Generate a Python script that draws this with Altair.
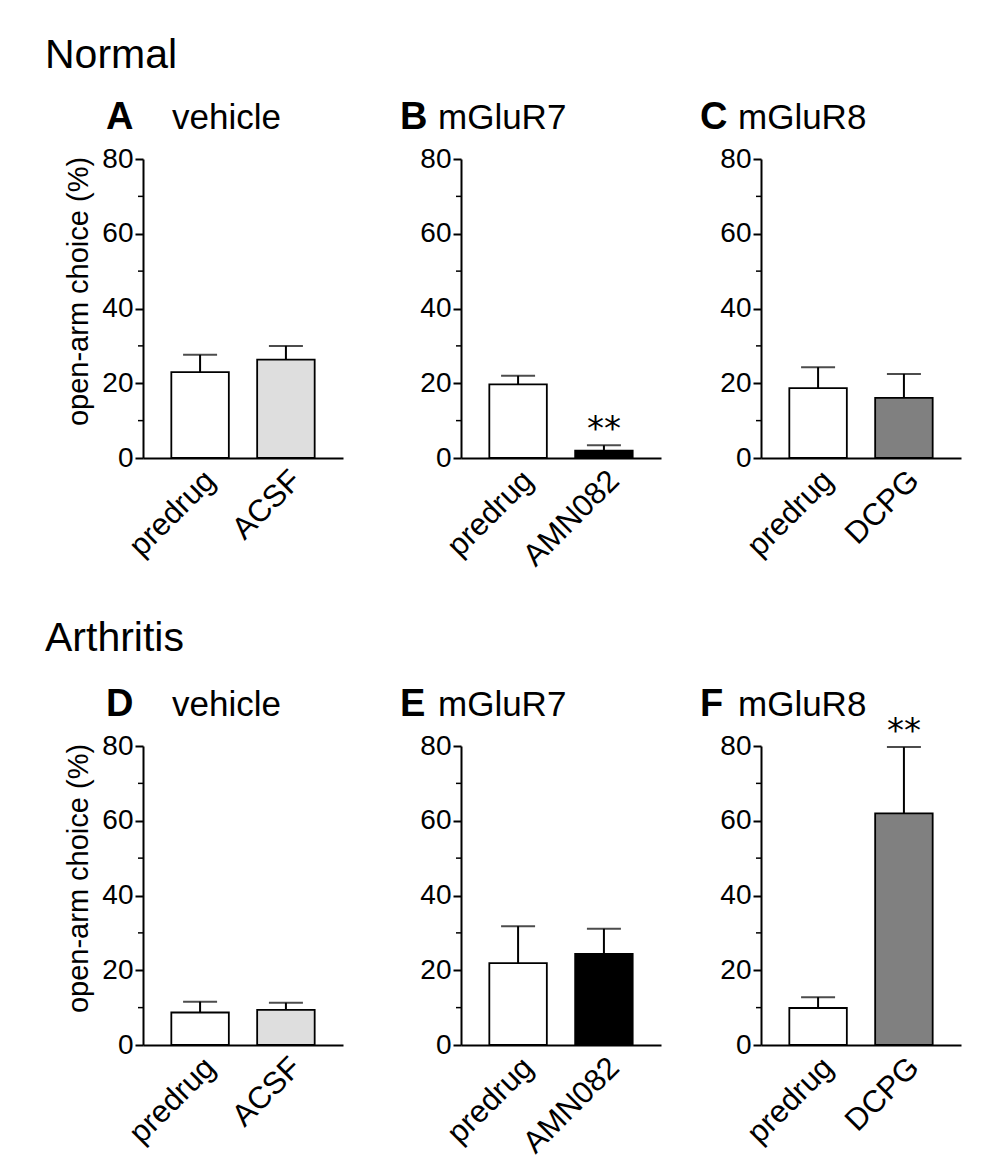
import altair as alt
import pandas as pd

# ---------------- data ----------------
letters = ["A", "B", "C", "D", "E", "F"]
groups = ["Normal", "Normal", "Normal", "Arthritis", "Arthritis", "Arthritis"]
drugs = ["vehicle", "mGluR7", "mGluR8", "vehicle", "mGluR7", "mGluR8"]
conditions = [
    ["predrug", "ACSF"],
    ["predrug", "AMN082"],
    ["predrug", "DCPG"],
    ["predrug", "ACSF"],
    ["predrug", "AMN082"],
    ["predrug", "DCPG"],
]
means = [
    [23.0, 26.3],
    [19.7, 2.0],
    [18.7, 16.1],
    [8.7, 9.4],
    [21.9, 24.4],
    [9.9, 62.0],
]
sems = [
    [4.6, 3.7],
    [2.3, 1.4],
    [5.6, 6.4],
    [2.9, 1.9],
    [9.9, 6.7],
    [2.9, 17.7],
]
marks = [["", ""], ["", "**"], ["", ""], ["", ""], ["", ""], ["", "**"]]
y_ticks = [0, 20, 40, 60, 80]
minor_ticks = [10, 30, 50, 70]
y_title = "open-arm choice (%)"

# ---------------- style ----------------
FILL = {"predrug": "#ffffff", "ACSF": "#dedede", "AMN082": "#000000", "DCPG": "#808080"}
FONT = "Liberation Sans"
W, H = 200, 299
LETTER_X = [-37, -61, -61, -37, -61, -61]
NAME_X = [29, -23, -23, 29, -23, -23]
HEAD_Y = [-91, -91, -91, -95, -95, -95]


def panel(i):
    df = pd.DataFrame({
        "cond": conditions[i],
        "mean": means[i],
        "upper": [m + s for m, s in zip(means[i], sems[i])],
        "sig": marks[i],
    })
    df["fill"] = df["cond"].map(FILL)
    show_title = (i % 3 == 0)

    ax_kw = dict(values=y_ticks, tickSize=8, tickWidth=2, tickColor="black",
                 domainWidth=2, domainColor="black", labelFontSize=28,
                 labelColor="black", labelPadding=2, grid=False, labelFont=FONT)
    if show_title:
        ax_kw.update(title=y_title, titleFontSize=29, titleFontWeight="normal",
                     titlePadding=8, titleColor="black", titleFont=FONT, titleY=132)
    else:
        ax_kw.update(title="")
    yaxis = alt.Axis(**ax_kw)
    yscale = alt.Scale(domain=[0, 80], nice=False)

    xaxis = alt.Axis(title="", labelAngle=-45, ticks=False, tickSize=0, labelPadding=7,
                     labelFontSize=31, domainWidth=2, domainColor="black",
                     labelColor="black", labelFont=FONT)
    xenc = alt.X("cond:N", sort=conditions[i],
                 scale=alt.Scale(paddingInner=0.33, paddingOuter=0.33), axis=xaxis)

    base = alt.Chart(df)
    bars = base.mark_bar(stroke="black", strokeWidth=1.8).encode(
        x=xenc,
        y=alt.Y("mean:Q", scale=yscale, axis=yaxis),
        fill=alt.Fill("fill:N", scale=None),
    )
    err = base.mark_rule(color="black", strokeWidth=2).encode(
        x=xenc,
        y=alt.Y("mean:Q", scale=yscale, axis=yaxis),
        y2="upper:Q",
    )
    cap = base.mark_tick(orient="horizontal", size=34, thickness=2, color="black").encode(
        x=xenc,
        y=alt.Y("upper:Q", scale=yscale, axis=yaxis),
    )
    stars = base.mark_text(font="DejaVu Sans", fontSize=34, baseline="alphabetic",
                           dy=-5, color="black").encode(
        x=xenc,
        y=alt.Y("upper:Q", scale=yscale, axis=yaxis),
        text="sig:N",
    )
    minor = alt.Chart(pd.DataFrame({"v": minor_ticks})).mark_rule(
        color="black", strokeWidth=1.5).encode(
        y=alt.Y("v:Q", scale=yscale, axis=yaxis),
        x=alt.value(-5), x2=alt.value(0),
    )
    letter = alt.Chart(pd.DataFrame({"t": [letters[i]]})).mark_text(
        align="left", baseline="alphabetic", fontSize=38, fontWeight="bold",
        font=FONT, color="black").encode(
        text="t:N", x=alt.value(LETTER_X[i]), y=alt.value(-30))
    name = alt.Chart(pd.DataFrame({"t": [drugs[i]]})).mark_text(
        align="left", baseline="alphabetic", fontSize=35, font=FONT,
        color="black").encode(
        text="t:N", x=alt.value(NAME_X[i]), y=alt.value(-30))
    layers = [bars, err, cap, stars, minor, letter, name]
    if show_title:
        head = alt.Chart(pd.DataFrame({"t": [groups[i]]})).mark_text(
            align="left", baseline="alphabetic", fontSize=41, font=FONT,
            color="black").encode(
            text="t:N", x=alt.value(-98), y=alt.value(HEAD_Y[i]))
        layers.append(head)
    return alt.layer(*layers).properties(width=W, height=H)


row1 = alt.hconcat(panel(0), alt.hconcat(panel(1), panel(2), spacing=39), spacing=57)
row2 = alt.hconcat(panel(3), alt.hconcat(panel(4), panel(5), spacing=39), spacing=57)

chart = alt.vconcat(row1, row2, spacing=46).properties(
    padding={"left": 37, "top": 27, "right": 5, "bottom": 5}
).configure(font=FONT).configure_view(strokeWidth=0)

chart.save("out.html", embed_options={"renderer": "svg", "actions": False})
